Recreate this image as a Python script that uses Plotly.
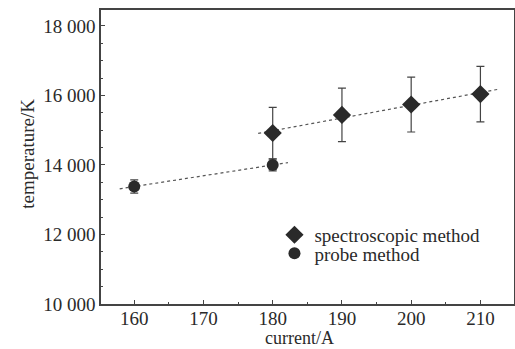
import numpy as np
import plotly.graph_objects as go

# Data
spec_current = [180, 190, 200, 210]
spec_temp = [14920, 15440, 15740, 16040]
spec_err = [740, 770, 790, 800]

probe_current = [160, 180]
probe_temp = [13380, 14000]
probe_err = [190, 170]

x_ticks = [160, 170, 180, 190, 200, 210]
y_ticks = [10000, 12000, 14000, 16000, 18000]

ink = "#2a2a2a"
font = "Liberation Serif"

# linear fits
sp = np.polyfit(spec_current, spec_temp, 1)
pp = np.polyfit(probe_current, probe_temp, 1)
sx = np.array([177.9, 212.6])
px = np.array([157.9, 182.2])

fig = go.Figure()
fig.add_trace(go.Scatter(x=sx, y=np.polyval(sp, sx), mode="lines",
                         line=dict(color="#555", width=1.2, dash="dot"),
                         showlegend=False, hoverinfo="skip"))
fig.add_trace(go.Scatter(x=px, y=np.polyval(pp, px), mode="lines",
                         line=dict(color="#555", width=1.2, dash="dot"),
                         showlegend=False, hoverinfo="skip"))
fig.add_trace(go.Scatter(x=spec_current, y=spec_temp, mode="markers",
                         name="spectroscopic method", legend="legend",
                         marker=dict(symbol="diamond", size=14, color=ink),
                         error_y=dict(type="data", array=spec_err, color="#444",
                                      thickness=1.2, width=4)))
fig.add_trace(go.Scatter(x=probe_current, y=probe_temp, mode="markers",
                         name="probe method", legend="legend2",
                         marker=dict(symbol="circle", size=12, color=ink),
                         error_y=dict(type="data", array=probe_err, color="#444",
                                      thickness=1.2, width=4)))

axis_common = dict(showline=True, linecolor="#444", linewidth=1.5, mirror=True,
                   ticks="inside", ticklen=4, tickwidth=1.2, tickcolor="#444",
                   showgrid=False, zeroline=False, automargin=False,
                   tickfont=dict(family=font, size=19, color=ink),
                   minor=dict(ticks="inside", ticklen=2, tickcolor="#444"))

fig.update_xaxes(range=[155.2, 214.85], tickvals=x_ticks, ticklabelstandoff=-4,
                 **axis_common)
fig.update_yaxes(range=[10000, 18460], tickvals=y_ticks, tickformat=",d",
                 ticklabelstandoff=0, **axis_common)

fig.add_annotation(text="current/A", xref="paper", yref="paper", x=0.48, y=-0.114,
                   xanchor="center", yanchor="middle", showarrow=False,
                   font=dict(family=font, size=18, color=ink))
fig.add_annotation(text="temperature/K", xref="paper", yref="paper", x=-0.18, y=0.51,
                   xanchor="center", yanchor="middle", showarrow=False, textangle=-90,
                   font=dict(family=font, size=19, color=ink))

leg_common = dict(xanchor="left", yanchor="middle", bgcolor="rgba(0,0,0,0)",
                  itemwidth=30, font=dict(family=font, size=19, color=ink))
fig.update_layout(width=515, height=349, separators=". ",
                  margin=dict(l=101, r=1, t=10, b=45),
                  paper_bgcolor="white", plot_bgcolor="white",
                  legend=dict(x=0.42, y=0.235, **leg_common),
                  legend2=dict(x=0.42, y=0.172, **leg_common),
                  showlegend=True)

fig.write_html("out.html", config={"displayModeBar": False},
               post_script="document.body.style.margin='0';document.body.style.overflow='hidden';")
